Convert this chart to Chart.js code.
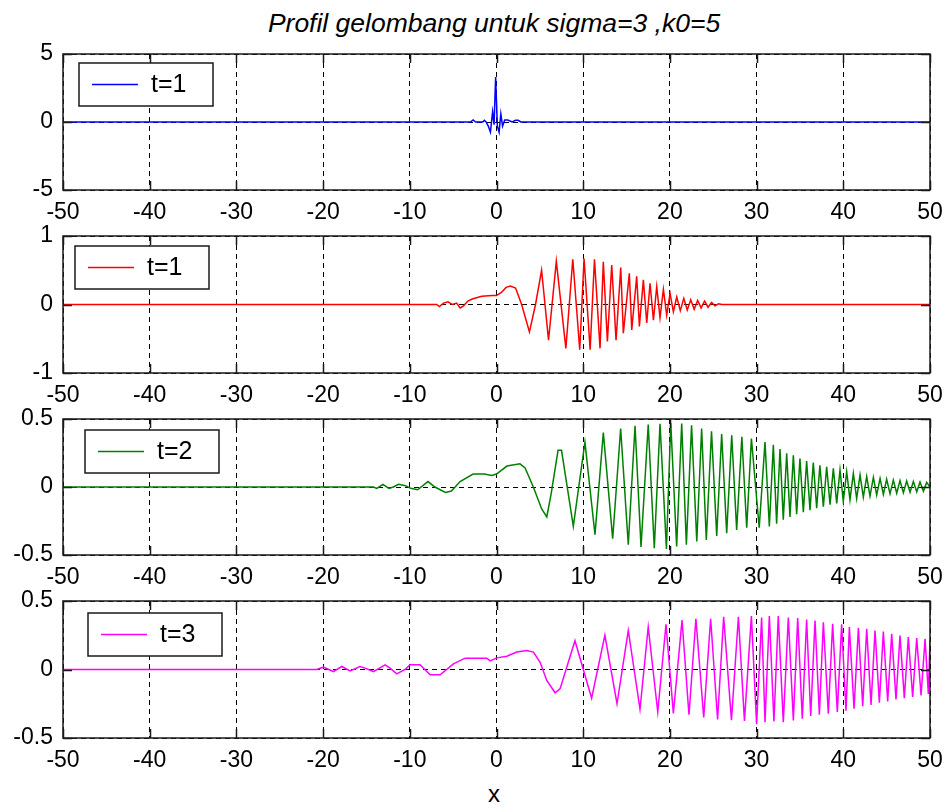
<!DOCTYPE html>
<html>
<head>
<meta charset="utf-8">
<script src="https://cdn.jsdelivr.net/npm/chart.js@4.4.0/dist/chart.umd.min.js"></script>
<style>
  body { margin: 0; background: #fff; }
  #wrap { position: relative; width: 948px; height: 809px; overflow: hidden; background: #fff; }
  canvas { position: absolute; left: 0; }
  .txt { position: absolute; font-family: Arial, "Liberation Sans", sans-serif; color: #000; white-space: nowrap; transform: translateX(-50%); }
</style>
</head>
<body>
<div id="wrap">
  <div class="txt" id="title" style="left:494px; top:10px; font-size:26.5px; line-height:26px; font-style:italic;">Profil gelombang untuk sigma=3 ,k0=5</div>
  <div class="txt" id="xlab" style="left:494px; top:782px; font-size:24px; line-height:24px;">x</div>
</div>
<script>
// tick labels
const xTicks = [-50, -40, -30, -20, -10, 0, 10, 20, 30, 40, 50];
const yTicks1 = [-5, 0, 5];
const yTicks2 = [-1, 0, 1];
const yTicks3 = [-0.5, 0, 0.5];
const yTicks4 = [-0.5, 0, 0.5];

const seriesNames = ['t=1', 't=1', 't=2', 't=3'];
const seriesColors = ['#0000ff', '#ff0000', '#008000', '#ff00ff'];

// wave profiles, [x, y]
const blueWave = [[-50,0],[-3.0,0],[-2.7,0.15],[-2.4,0],[-1.6,0],[-1.4,0.12],[-1.2,0],[-0.95,-0.3],[-0.7,-0.75],
  [-0.45,0.75],[-0.28,-0.2],[-0.1,3.3],[0.1,-0.3],[0.3,-0.75],[0.5,0.6],[0.7,-0.3],[0.95,0.15],[1.3,0.15],
  [1.8,0],[2.2,0.12],[2.5,0.12],[2.8,0],[50,0]];

const redWave = [[-50,0],[-6.9,0],[-6.6,-0.03],[-6.1,0.02],[-5.6,0.04],[-5.1,0],[-4.6,0.02],[-4.2,-0.05],[-3.8,-0.02],
  [-3.3,0.05],[-2.8,0.08],[-1.7,0.12],[-0.5,0.13],[0,0.13],[0.6,0.18],[1.1,0.25],[1.6,0.27],[2.2,0.24],[2.9,0],
  [3.8,-0.4],[4.5,0],[5.2,0.5],[6.0,-0.52],[6.9,0.63],[8.0,-0.64],[8.8,0.66],[9.6,-0.66],[10.1,0.67],[10.8,-0.66],
  [11.3,0.66],[11.94,-0.64],[12.32,0.625],[12.79,-0.54],[13.29,0.577],[13.79,-0.52],[14.33,0.54],[14.63,-0.42],
  [15.32,0.455],[15.6,-0.37],[16.17,0.41],[16.48,-0.32],[16.94,0.36],[17.33,-0.27],[17.71,0.31],[18.1,-0.23],
  [18.48,0.26],[18.86,-0.19],[19.25,0.22],[19.63,-0.155],[20.02,0.16],[20.4,-0.105],[20.79,0.11],[21.2,-0.09],
  [21.6,0.09],[22.0,-0.08],[22.4,0.07],[22.8,-0.07],[23.2,0.06],[23.6,-0.05],[24.0,0.05],[24.4,-0.04],[24.8,0.03],
  [25.2,-0.02],[25.6,0.01],[26.0,0],[50,0]];

const greenWave = [[-50,0],[-14.2,0],[-13.8,-0.01],[-13.1,0.02],[-12.4,-0.01],[-11.9,0],[-11.3,0.02],[-10.5,0.01],
  [-9.9,-0.01],[-9.1,-0.02],[-7.9,0.04],[-7.1,0],[-5.9,-0.04],[-5.2,-0.03],[-4.2,0.04],[-2.7,0.095],[-1.4,0.095],
  [-0.55,0.085],[0,0.095],[1.2,0.154],[2.7,0.17],[3.3,0.14],[4.25,0],[5.2,-0.16],[5.8,-0.22],[6.3,-0.05],[7.1,0.27],
  [7.5,0.27],[8.86,-0.29],[10.2,0.33],[11.36,-0.35],[12.32,0.4],[13.4,-0.38],[14.32,0.43],[15.2,-0.425],[15.98,0.45],
  [16.67,-0.44],[17.5,0.46],[18.2,-0.45],[18.86,0.465],[19.6,-0.455],[20.1,0.47],[20.78,-0.437],[21.36,0.466],
  [21.9,-0.425],[22.5,0.454],[23.1,-0.4],[23.66,0.43],[24.2,-0.39],[24.8,0.41],[25.4,-0.36],[25.97,0.39],[26.55,-0.34],
  [27.13,0.38],[27.7,-0.315],[28.3,0.37],[28.86,-0.3],[29.4,0.357],[30.3,-0.3],[30.97,0.33],[31.47,-0.29],[31.93,0.31],
  [32.31,-0.27],[32.7,0.28],[33.08,-0.24],[33.47,0.247],[33.85,-0.22],[34.24,0.234],[34.62,-0.2],[35.0,0.21],
  [35.39,-0.185],[35.77,0.19],[36.16,-0.17],[36.54,0.18],[36.93,-0.155],[37.3,0.16],[37.7,-0.145],[38.08,0.149],
  [38.47,-0.13],[38.85,0.137],[39.24,-0.12],[39.62,0.125],[40.0,-0.105],[40.39,0.112],[40.77,-0.095],[41.16,0.1],
  [41.54,-0.085],[41.93,0.088],[42.31,-0.075],[42.7,0.076],[43.08,-0.068],[43.47,0.07],[43.85,-0.06],[44.24,0.063],
  [44.62,-0.055],[45.0,0.057],[45.39,-0.05],[45.77,0.051],[46.16,-0.046],[46.54,0.047],[46.93,-0.042],[47.31,0.044],
  [47.7,-0.038],[48.08,0.04],[48.47,-0.035],[48.85,0.037],[49.24,-0.032],[49.62,0.034],[50,0]];

const magentaWave = [[-50,0],[-20.74,0],[-19.97,0.017],[-18.81,-0.015],[-17.85,0.022],[-16.89,-0.01],[-15.74,0.022],
  [-15.16,0.01],[-14.2,-0.015],[-12.85,0.034],[-12.27,0.01],[-11.5,-0.032],[-10.55,0],[-9.97,0.034],[-8.82,0.034],
  [-7.66,-0.039],[-6.5,-0.039],[-4.97,0.041],[-3.62,0.083],[-1.12,0.083],[-0.74,0.063],[0.03,0.085],[1.19,0.097],
  [2.34,0.127],[3.5,0.139],[4.26,0.127],[5.03,0.053],[5.8,-0.08],[6.76,-0.17],[7.34,-0.14],[9.05,0.21],[10.97,-0.21],
  [12.5,0.25],[13.9,-0.25],[15.2,0.285],[16.55,-0.29],[17.5,0.31],[18.6,-0.31],[19.55,0.33],[20.4,-0.32],[21.4,0.36],
  [22.2,-0.33],[23.0,0.37],[23.9,-0.35],[24.7,0.37],[25.5,-0.365],[26.2,0.385],[27.1,-0.37],[27.9,0.385],[28.6,-0.375],
  [29.4,0.39],[30.0,-0.4],[30.58,0.38],[30.97,-0.385],[31.47,0.39],[32.0,-0.38],[32.5,0.39],[33.08,-0.385],[33.66,0.38],
  [34.24,-0.372],[34.74,0.375],[35.27,-0.36],[35.77,0.365],[36.24,-0.34],[36.74,0.358],[37.24,-0.33],[37.7,0.345],
  [38.27,-0.323],[38.77,0.333],[39.31,-0.31],[39.81,0.33],[40.31,-0.3],[40.7,0.31],[41.24,-0.287],[41.74,0.304],
  [42.24,-0.268],[42.7,0.297],[43.2,-0.258],[43.66,0.285],[44.16,-0.243],[44.62,0.277],[45.12,-0.234],[45.58,0.26],
  [46.08,-0.219],[46.54,0.248],[47.04,-0.209],[47.5,0.236],[48.0,-0.2],[48.47,0.229],[48.97,-0.19],[49.43,0.224],
  [49.81,-0.178],[50,0.21]];

const waves = [blueWave, redWave, greenWave, magentaWave];
const yTickSets = [yTicks1, yTicks2, yTicks3, yTicks4];

// layout of the four panels (plot box top/bottom in page pixels, legend offset in box)
const panels = [
  { top: 54, bottom: 190, lx: 16, ly: 9 },
  { top: 236, bottom: 373, lx: 12, ly: 10 },
  { top: 419, bottom: 555, lx: 22, ly: 11 },
  { top: 601, bottom: 738, lx: 25, ly: 12 }
];
const PAD_TOP = 16, XAXIS_H = 42, PLOT_LEFT = 63, PLOT_RIGHT = 930, W = 948;
const FONT = 'Arial, "Liberation Sans", sans-serif';

Chart.defaults.font.family = FONT;
Chart.defaults.font.size = 23;
Chart.defaults.color = '#000';

const framePlugin = {
  id: 'frame',
  afterDatasetsDraw(chart, args, opts) {
    const { ctx, chartArea: a, scales } = chart;
    ctx.save();
    ctx.setLineDash([]);
    ctx.strokeStyle = '#1a1a1a';
    ctx.lineWidth = 1.5;
    ctx.beginPath();
    scales.x.ticks.forEach(t => {
      const px = Math.round(scales.x.getPixelForValue(t.value)) + 0.5;
      ctx.moveTo(px, a.top); ctx.lineTo(px, a.top + 9);
      ctx.moveTo(px, a.bottom); ctx.lineTo(px, a.bottom - 9);
    });
    scales.y.ticks.forEach(t => {
      const py = Math.round(scales.y.getPixelForValue(t.value)) + 0.5;
      ctx.moveTo(a.left, py); ctx.lineTo(a.left + 9, py);
      ctx.moveTo(a.right, py); ctx.lineTo(a.right - 9, py);
    });
    ctx.stroke();
    ctx.strokeRect(a.left, a.top, a.right - a.left, a.bottom - a.top);

    // boxed legend like the original
    const ds = chart.data.datasets[0];
    const bx = a.left + opts.lx, by = a.top + opts.ly, bw = 134, bh = 43;
    ctx.fillStyle = '#fff';
    ctx.fillRect(bx, by, bw, bh);
    ctx.lineWidth = 1.5;
    ctx.strokeStyle = '#1a1a1a';
    ctx.strokeRect(bx, by, bw, bh);
    ctx.beginPath();
    ctx.strokeStyle = ds.borderColor;
    ctx.lineWidth = 1.5;
    ctx.moveTo(bx + 13, by + bh / 2);
    ctx.lineTo(bx + 59, by + bh / 2);
    ctx.stroke();
    ctx.fillStyle = '#000';
    ctx.font = '25px ' + FONT;
    ctx.textBaseline = 'middle';
    ctx.fillText(ds.label, bx + 72, by + bh / 2 + 1);
    ctx.restore();
  }
};

const wrap = document.getElementById('wrap');
panels.forEach((p, i) => {
  const cv = document.createElement('canvas');
  const h = p.bottom - p.top + PAD_TOP + XAXIS_H;
  cv.width = W; cv.height = h;
  cv.style.top = (p.top - PAD_TOP) + 'px';
  cv.style.width = W + 'px'; cv.style.height = h + 'px';
  wrap.appendChild(cv);

  const yt = yTickSets[i];
  new Chart(cv.getContext('2d'), {
    type: 'scatter',
    data: {
      datasets: [{
        label: seriesNames[i],
        data: waves[i].map(d => ({ x: d[0], y: d[1] })),
        showLine: true,
        borderColor: seriesColors[i],
        borderWidth: 1.5,
        pointRadius: 0,
        tension: 0
      }]
    },
    options: {
      responsive: false,
      animation: false,
      devicePixelRatio: 1,
      layout: { padding: { top: PAD_TOP, right: W - PLOT_RIGHT, left: 0, bottom: 0 } },
      plugins: {
        legend: { display: false },
        tooltip: { enabled: false },
        frame: { lx: p.lx, ly: p.ly }
      },
      scales: {
        x: {
          type: 'linear',
          min: -50, max: 50,
          afterBuildTicks: s => { s.ticks = xTicks.map(v => ({ value: v })); },
          afterFit: s => { s.height = XAXIS_H; s.paddingLeft = 0; s.paddingRight = 0; },
          grid: { color: '#000', lineWidth: 1, drawTicks: false },
          border: { display: false, dash: [5, 4] },
          ticks: { padding: 9, maxRotation: 0, autoSkip: false, callback: v => String(v) }
        },
        y: {
          type: 'linear',
          min: yt[0], max: yt[yt.length - 1],
          afterBuildTicks: s => { s.ticks = yt.map(v => ({ value: v })); },
          afterFit: s => { s.width = PLOT_LEFT; s.paddingTop = 0; s.paddingBottom = 0; },
          grid: { color: '#000', lineWidth: 1, drawTicks: false },
          border: { display: false, dash: [5, 4] },
          ticks: { padding: 10, autoSkip: false, callback: v => String(v) }
        }
      }
    },
    plugins: [framePlugin]
  });
});
</script>
</body>
</html>
